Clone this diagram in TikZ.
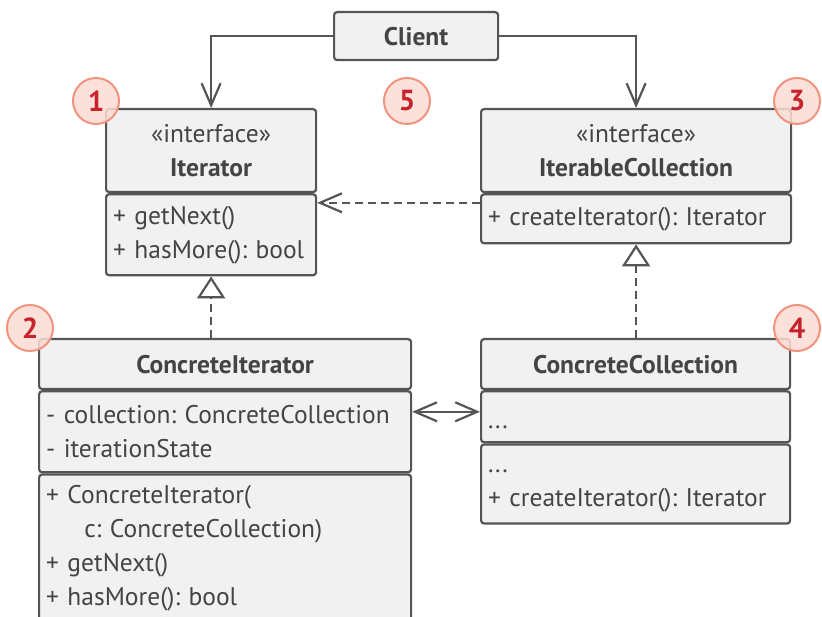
\documentclass[tikz,border=0pt]{standalone}
\usepackage{fontspec}
\setmainfont{PT Sans}
\usetikzlibrary{arrows.meta}
\definecolor{boxfill}{HTML}{F1F1F1}
\definecolor{boxline}{HTML}{555555}
\definecolor{txt}{HTML}{444444}
\definecolor{badgefill}{HTML}{FCDCD4}
\definecolor{badgeline}{HTML}{F2937F}
\definecolor{badgetxt}{HTML}{C8232C}
\frenchspacing
\newcommand{\lowered}[2]{\raisebox{-#1}[\height][\depth]{#2}}
\tikzset{
  part/.style={draw=boxline, fill=boxfill, line width=2.2pt, rounded corners=3pt,
    text=txt, inner xsep=7pt, inner ysep=0pt, font=\fontsize{25.5}{34}\selectfont},
  head/.style={part, align=center},
  body/.style={part, align=left},
  badge/.style={circle, draw=badgeline, fill=badgefill, fill opacity=0.85, text opacity=1,
    line width=2pt, minimum size=46pt, inner sep=0pt, text=badgetxt,
    font=\fontsize{29}{29}\selectfont\bfseries},
  link/.style={draw=boxline, line width=2.2pt},
  assoc/.style={link, -{Straight Barb[length=22pt, width=19pt]}},
  dep/.style={assoc, dash pattern=on 8pt off 5pt},
  realize/.style={link, dash pattern=on 8pt off 5pt, -{Triangle[open, length=22pt, width=28pt]}},
  twoway/.style={link, {Straight Barb[length=22pt, width=19pt]}-{Straight Barb[length=22pt, width=19pt]}}
}
\begin{document}
\begin{tikzpicture}[x=1pt, y=-1pt]
  \useasboundingbox (0,0) rectangle (822,617);
  % client
  \node[head, anchor=north west, text width=150pt, minimum height=48pt] (client) at (333,11) {\bfseries Client};
  % iterator interface
  \node[head, anchor=north west, text width=196pt, minimum height=83pt] (iterHead) at (105,108)
    {«interface»\\\bfseries Iterator};
  \node[body, anchor=north, text width=196pt, minimum height=81pt] (iterBody) at (iterHead.south)
    {+ getNext()\\+ hasMore(): bool};
  % collection interface
  \node[head, anchor=north west, text width=296pt, minimum height=83pt] (icHead) at (480,108)
    {«interface»\\\bfseries IterableCollection};
  \node[body, anchor=north, text width=296pt, minimum height=49pt] (icBody) at (icHead.south)
    {+ createIterator(): Iterator};
  % concrete iterator
  \node[head, anchor=north west, text width=358pt, minimum height=50pt] (ciHead) at (38,338)
    {\bfseries ConcreteIterator};
  \node[body, anchor=north, text width=358pt, minimum height=81pt] (ciAttr) at (ciHead.south)
    {- collection: ConcreteCollection\\- iterationState};
  \node[body, anchor=north, text width=358pt, minimum height=148pt] (ciOps) at (ciAttr.south)
    {+ ConcreteIterator(\\\hspace*{1.5em}c: ConcreteCollection)\\+ getNext()\\+ hasMore(): bool};
  % concrete collection
  \node[head, anchor=north west, text width=295pt, minimum height=50pt] (ccHead) at (480,338)
    {\bfseries ConcreteCollection};
  \node[body, anchor=north, text width=295pt, minimum height=51pt] (ccAttr) at (ccHead.south)
    {\lowered{11pt}{...}};
  \node[body, anchor=north, text width=295pt, minimum height=79pt] (ccOps) at (ccAttr.south)
    {\lowered{7pt}{...}\\\lowered{7pt}{+ createIterator(): Iterator}};
  % connectors
  \draw[assoc] (client.west) -| (iterHead.north);
  \draw[assoc] (client.east) -| (icHead.north);
  \draw[dep] ([yshift=16pt]icBody.west) -- ([yshift=16pt]iterBody.east |- icBody.west);
  \draw[realize] (ciHead.north -| iterBody.south) -- (iterBody.south);
  \draw[realize] (ccHead.north -| icBody.south) -- (icBody.south);
  \draw[twoway] ([yshift=5pt]ciAttr.east |- ccAttr.west) -- ([yshift=5pt]ccAttr.west);
  % badges
  \node[badge] (b1) at (96,101) {1};
  \node[badge] (b2) at (30,328) {2};
  \node[badge] (b3) at (797,101) {3};
  \node[badge] (b4) at (797,328) {4};
  \node[badge] (b5) at (407,101) {5};
\end{tikzpicture}
\end{document}
